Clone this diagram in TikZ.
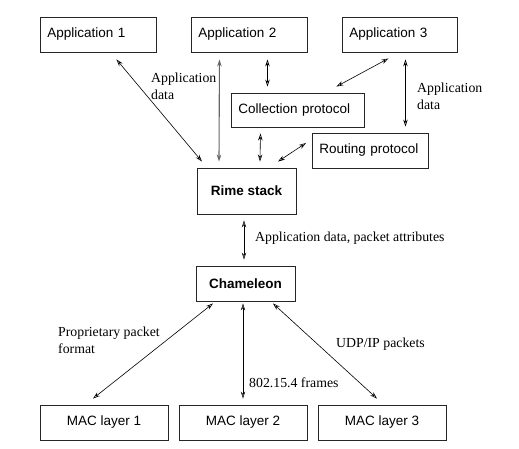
\documentclass[tikz,border=0pt]{standalone}
\usepackage{fontspec}
\setmainfont{Liberation Serif}
\setsansfont{Liberation Sans}
\usetikzlibrary{arrows.meta}
\begin{document}
\begin{tikzpicture}[x=1pt,y=-1pt,
  box/.style={draw=black!85,line width=0.9pt,inner sep=0pt,minimum height=35pt,font=\sffamily\fontsize{13.5}{16}\selectfont},
  lbox/.style={box,anchor=west,text width=#1,align=left,inner xsep=7pt},
  cbox/.style={box,minimum width=#1},
  arr/.style={line width=0.6pt,{Stealth[length=7pt,width=4.5pt,open]}-{Stealth[length=7pt,width=4.5pt,open]}},
  garr/.style={arr,draw=black!60,line width=1.1pt},
  lab/.style={inner sep=0pt,anchor=west,align=left,font=\fontsize{13.8}{17}\selectfont}]
\useasboundingbox (0,0) rectangle (519,449);
% boxes
\node[lbox=102pt] (app1) at (40,34.5) {Application 1};
\node[lbox=102pt] (app2) at (191,34.5) {Application 2};
\node[lbox=101pt] (app3) at (342,34.5) {Application 3};
\node[lbox=119pt,minimum height=34pt] (coll) at (231,110) {Collection protocol};
\node[lbox=102pt] (rout) at (312,150.5) {Routing protocol};
\node[cbox=99pt,minimum height=46pt,font=\sffamily\bfseries\fontsize{13.5}{16}\selectfont] (rime) at (246.5,191) {Rime stack};
\node[cbox=99pt,font=\sffamily\bfseries\fontsize{13.5}{16}\selectfont] (cham) at (245.5,283.5) {Chameleon};
\node[cbox=128pt] (mac1) at (104,422.5) {MAC layer 1};
\node[cbox=128pt] (mac2) at (243,422.5) {MAC layer 2};
\node[cbox=128pt] (mac3) at (382,422.5) {MAC layer 3};
% connectors
\draw[arr] ([xshift=18pt,yshift=-7pt]app1.south) -- ([xshift=-44.5pt,yshift=6pt]rime.north);
\draw[garr] ([xshift=-30pt,yshift=-7pt]app2.south) -- ([xshift=-27.5pt,yshift=6pt]rime.north);
\draw[arr] ([xshift=18pt,yshift=-7pt]app2.south) -- ([xshift=-30.5pt,yshift=6pt]coll.north);
\draw[arr] ([xshift=-11.5pt,yshift=-6pt]app3.south) -- ([xshift=38.5pt,yshift=6pt]coll.north);
\draw[arr] ([xshift=5.5pt,yshift=-7pt]app3.south) -- ([xshift=35pt,yshift=6pt]rout.north);
\draw[arr] ([xshift=-37.5pt,yshift=-6pt]coll.south) -- ([xshift=13.5pt,yshift=6pt]rime.north);
\draw[arr] ([xshift=-6pt,yshift=7.5pt]rout.west) -- ([xshift=31.5pt,yshift=6pt]rime.north);
\draw[arr] ([xshift=-2.5pt,yshift=-6pt]rime.south) -- ([xshift=-1.5pt,yshift=6pt]cham.north);
\draw[arr] ([xshift=-32.5pt,yshift=-2pt]cham.south) -- ([xshift=-11pt,yshift=6pt]mac1.north);
\draw[arr] ([xshift=-2.5pt,yshift=-2pt]cham.south) -- ([xshift=0pt,yshift=6pt]mac2.north);
\draw[arr] ([xshift=27.5pt,yshift=-2pt]cham.south) -- ([xshift=-5pt,yshift=6pt]mac3.north);
% labels
\node[lab] (l1) at (151,86.5) {Application\\data};
\node[lab] (l2) at (417,96.5) {Application\\data};
\node[lab] (l3) at (255,238) {Application data, packet attributes};
\node[lab] (l4) at (58,340) {Proprietary packet\\format};
\node[lab] (l5) at (249,383) {802.15.4 frames};
\node[lab] (l6) at (336,344) {UDP/IP packets};
\end{tikzpicture}
\end{document}
